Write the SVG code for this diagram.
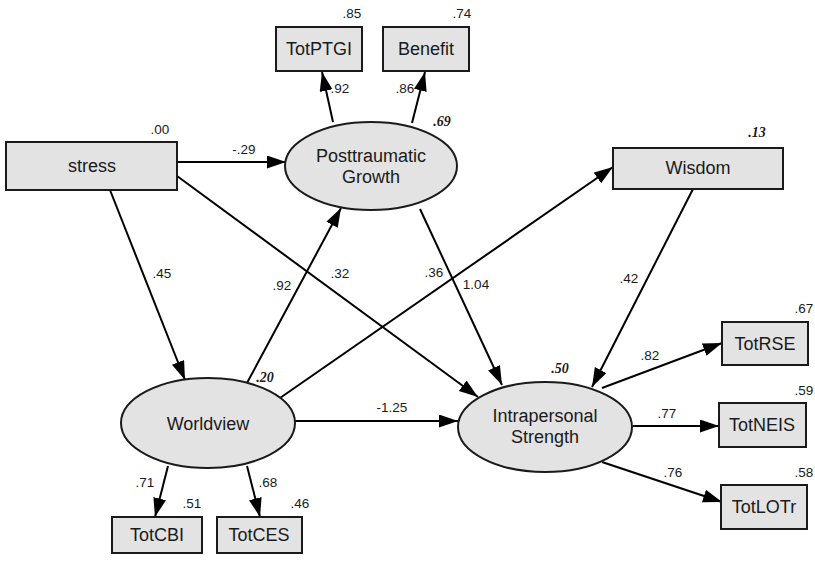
<svg xmlns="http://www.w3.org/2000/svg" width="815" height="563" viewBox="0 0 815 563">
  <style>
    .box { fill: #e3e3e3; stroke: #1a1a1a; stroke-width: 2; }
    .lat { fill: #e3e3e3; stroke: #1a1a1a; stroke-width: 2; }
    .name { font-family: "Liberation Sans", Arial, sans-serif; font-size: 18px; fill: #1a1a1a; text-anchor: middle; }
    .coef { font-family: "Liberation Sans", Arial, sans-serif; font-size: 13.5px; fill: #1a1a1a; text-anchor: middle; }
    .r2 { font-family: "Liberation Serif", "Times New Roman", serif; font-size: 14px; font-weight: bold; font-style: italic; fill: #1a1a1a; text-anchor: middle; }
    .path { stroke: #000; stroke-width: 2; fill: none; marker-end: url(#arrow); }
  </style>
  <defs>
    <marker id="arrow" markerUnits="userSpaceOnUse" markerWidth="20" markerHeight="14" refX="19" refY="6.5" orient="auto">
      <path d="M0,0 L19,6.5 L0,13 z" fill="#000"/>
    </marker>
  </defs>
  <rect width="815" height="563" fill="#fff"/>

  <g id="connectors">
    <line class="path" x1="177" y1="162" x2="286" y2="162"/>
    <line class="path" x1="110" y1="190" x2="185" y2="380"/>
    <line class="path" x1="177" y1="176" x2="478" y2="397"/>
    <line class="path" x1="247" y1="383" x2="341" y2="208"/>
    <line class="path" x1="280" y1="398" x2="613" y2="167"/>
    <line class="path" x1="420" y1="209" x2="502" y2="385"/>
    <line class="path" x1="693" y1="189" x2="592" y2="387"/>
    <line class="path" x1="295" y1="421" x2="458" y2="421"/>
    <line class="path" x1="333" y1="122" x2="322" y2="72"/>
    <line class="path" x1="412" y1="123" x2="425" y2="72"/>
    <line class="path" x1="602" y1="388" x2="722" y2="343"/>
    <line class="path" x1="633" y1="426" x2="719" y2="426"/>
    <line class="path" x1="602" y1="462" x2="722" y2="502"/>
    <line class="path" x1="168" y1="466" x2="155" y2="517"/>
    <line class="path" x1="247" y1="466" x2="260" y2="517"/>

    <text class="coef" x="244" y="154">-.29</text>
    <text class="coef" x="162" y="278">.45</text>
    <text class="coef" x="340" y="278">.32</text>
    <text class="coef" x="282" y="290">.92</text>
    <text class="coef" x="434" y="277">.36</text>
    <text class="coef" x="476" y="289">1.04</text>
    <text class="coef" x="629" y="283">.42</text>
    <text class="coef" x="392" y="412">-1.25</text>
    <text class="coef" x="340" y="93">.92</text>
    <text class="coef" x="405" y="93">.86</text>
    <text class="coef" x="650" y="360">.82</text>
    <text class="coef" x="667" y="418">.77</text>
    <text class="coef" x="673" y="477">.76</text>
    <text class="coef" x="145" y="487">.71</text>
    <text class="coef" x="268" y="487">.68</text>
  </g>

  <g id="stress">
    <rect class="box" x="6" y="142" width="171" height="48"/>
    <text class="name" x="92" y="172">stress</text>
    <text class="coef" x="160" y="134">.00</text>
  </g>

  <g id="posttraumatic-growth">
    <ellipse class="lat" cx="371" cy="166" rx="86" ry="44"/>
    <text class="name" x="371" y="162">Posttraumatic</text>
    <text class="name" x="371" y="183">Growth</text>
    <text class="r2" x="442" y="126">.69</text>
  </g>

  <g id="totptgi">
    <rect class="box" x="276" y="27" width="86" height="44"/>
    <text class="name" x="319" y="55">TotPTGI</text>
    <text class="coef" x="352" y="18">.85</text>
  </g>

  <g id="benefit">
    <rect class="box" x="383" y="27" width="86" height="44"/>
    <text class="name" x="426" y="55">Benefit</text>
    <text class="coef" x="462" y="18">.74</text>
  </g>

  <g id="wisdom">
    <rect class="box" x="613" y="148" width="170" height="41"/>
    <text class="name" x="698" y="174">Wisdom</text>
    <text class="r2" x="757" y="137">.13</text>
  </g>

  <g id="worldview">
    <ellipse class="lat" cx="208" cy="423" rx="87" ry="45"/>
    <text class="name" x="208" y="430">Worldview</text>
    <text class="r2" x="265" y="382">.20</text>
  </g>

  <g id="intrapersonal-strength">
    <ellipse class="lat" cx="545" cy="427" rx="87" ry="45"/>
    <text class="name" x="545" y="422">Intrapersonal</text>
    <text class="name" x="545" y="443">Strength</text>
    <text class="r2" x="560" y="373">.50</text>
  </g>

  <g id="totrse">
    <rect class="box" x="722" y="322" width="86" height="43"/>
    <text class="name" x="765" y="350">TotRSE</text>
    <text class="coef" x="804" y="313">.67</text>
  </g>

  <g id="totneis">
    <rect class="box" x="719" y="403" width="87" height="44"/>
    <text class="name" x="762" y="431">TotNEIS</text>
    <text class="coef" x="804" y="395">.59</text>
  </g>

  <g id="totlotr">
    <rect class="box" x="721" y="485" width="86" height="44"/>
    <text class="name" x="764" y="513">TotLOTr</text>
    <text class="coef" x="804" y="477">.58</text>
  </g>

  <g id="totcbi">
    <rect class="box" x="112" y="517" width="90" height="36"/>
    <text class="name" x="157" y="541">TotCBI</text>
    <text class="coef" x="192" y="508">.51</text>
  </g>

  <g id="totces">
    <rect class="box" x="217" y="517" width="85" height="36"/>
    <text class="name" x="259" y="541">TotCES</text>
    <text class="coef" x="300" y="508">.46</text>
  </g>
</svg>
